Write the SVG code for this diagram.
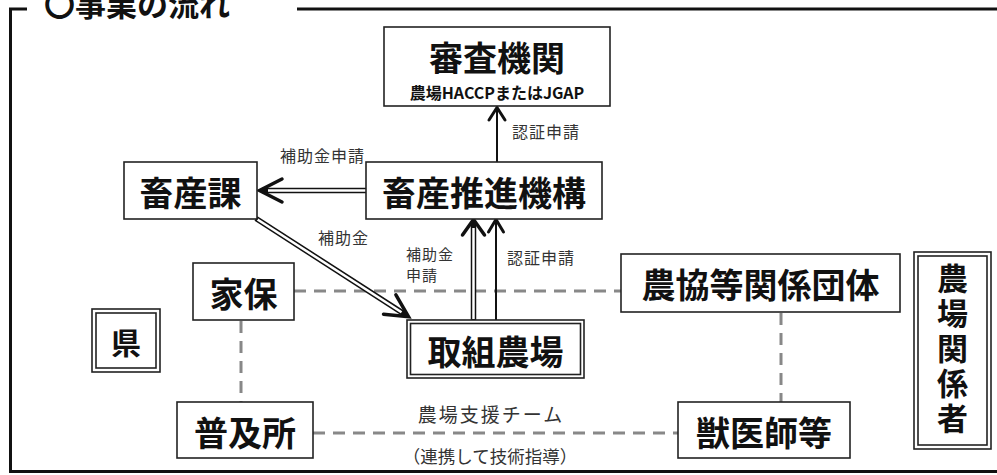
<svg xmlns="http://www.w3.org/2000/svg" width="997" height="475" viewBox="0 0 997 475">
<style>
.box{fill:#fff;stroke:#222;stroke-width:1.6}
.t{font-family:"Noto Sans CJK JP","Noto Sans CJK SC",sans-serif;font-weight:700;fill:#111;text-anchor:middle;dominant-baseline:central}
.lbl{font-family:"Noto Sans CJK JP","Noto Sans CJK SC",sans-serif;font-size:16px;letter-spacing:1px;fill:#333;dominant-baseline:central}
.dash{fill:none;stroke:#888;stroke-width:3;stroke-dasharray:12 8}
.frame{fill:none;stroke:#111;stroke-width:3}
.dblo{fill:none;stroke:#111;stroke-width:5.5}
.dbli{fill:none;stroke:#fff;stroke-width:2.5}
.single{fill:none;stroke:#111;stroke-width:2}
.head{fill:none;stroke:#111;stroke-width:3.5;stroke-linejoin:miter;stroke-linecap:round}
.heads{fill:none;stroke:#111;stroke-width:3;stroke-linejoin:miter;stroke-linecap:round}
</style>
<rect width="997" height="475" fill="#fff"/>
<g id="frame">
<path class="frame" d="M27 9 H10.5 V471.5 H997"/>
<path class="frame" d="M297 9 H997"/>
<text class="t" x="44" y="2" style="font-size:31px;text-anchor:start">〇事業の流れ</text>
</g>
<g id="connectors">
<line class="dash" x1="294" y1="291" x2="621" y2="291"/>
<line class="dash" x1="241" y1="321" x2="241" y2="402"/>
<line class="dash" x1="781" y1="313" x2="781" y2="402"/>
<line class="dash" x1="313" y1="433" x2="678" y2="433"/>
<line class="single" x1="497" y1="162" x2="497" y2="109"/>
<polyline class="heads" points="489,120 497,107.5 505,120"/>
<line class="dblo" x1="366" y1="190.5" x2="262" y2="190.5"/>
<line class="dbli" x1="367" y1="190.5" x2="268" y2="190.5"/>
<polyline class="head" points="282,179 259.5,190.5 282,202"/>
<line class="dblo" x1="256" y1="218.5" x2="406.5" y2="315.4"/>
<line class="dbli" x1="257.5" y1="219.5" x2="401.5" y2="312.2"/>
<polyline class="head" points="383.5,314.2 408.5,316.7 395.9,294.8"/>
<line class="dblo" x1="473.5" y1="320" x2="473.5" y2="222"/>
<line class="dbli" x1="473.5" y1="319" x2="473.5" y2="228"/>
<polyline class="head" points="462.5,235 473.5,219.5 484.5,235"/>
<line class="single" x1="496" y1="320" x2="496" y2="221"/>
<polyline class="heads" points="488.5,232 496,219.5 503.5,232"/>
<text class="lbl" x="512" y="131">認証申請</text>
<text class="lbl" x="280" y="155">補助金申請</text>
<text class="lbl" x="318" y="237">補助金</text>
<text class="lbl" x="406" y="253" style="font-size:15px">補助金</text>
<text class="lbl" x="406" y="274" style="font-size:15px">申請</text>
<text class="lbl" x="507" y="257">認証申請</text>
<text class="lbl" x="491" y="413" style="font-size:19px;letter-spacing:2px;text-anchor:middle">農場支援チーム</text>
<text class="lbl" x="490" y="455" style="font-size:17.5px;letter-spacing:0;text-anchor:middle">（連携して技術指導）</text>
</g>
<g id="shinsa">
<rect class="box" x="384" y="27" width="226" height="79"/>
<text class="t" x="497" y="56" style="font-size:34px">審査機関</text>
<text class="t" x="497" y="92" style="font-size:16px">農場HACCPまたはJGAP</text>
</g>
<g id="chikusanka">
<rect class="box" x="124" y="162" width="133" height="57"/>
<text class="t" x="190.5" y="191" style="font-size:34px">畜産課</text>
</g>
<g id="suishin">
<rect class="box" x="366" y="162" width="236" height="57"/>
<text class="t" x="484" y="191" style="font-size:34px">畜産推進機構</text>
</g>
<g id="kaho">
<rect class="box" x="193" y="263" width="101" height="57"/>
<text class="t" x="243.5" y="292" style="font-size:34px">家保</text>
</g>
<g id="torikumi">
<rect class="box" x="407" y="320" width="177" height="58"/>
<rect class="box" x="410.5" y="323.5" width="170" height="51"/>
<text class="t" x="495.5" y="350" style="font-size:34px">取組農場</text>
</g>
<g id="nokyo">
<rect class="box" x="621" y="254" width="279" height="58"/>
<text class="t" x="760.5" y="283" style="font-size:34px">農協等関係団体</text>
</g>
<g id="ken">
<rect class="box" x="92" y="309" width="68" height="63"/>
<rect class="box" x="96" y="313" width="60" height="55"/>
<text class="t" x="126" y="341" style="font-size:30px">県</text>
</g>
<g id="kankeisha">
<rect class="box" x="914" y="252" width="77" height="197"/>
<rect class="box" x="918" y="256" width="69" height="189"/>
<text x="952.5" y="263" style="font-family:'Noto Sans CJK JP','Noto Sans CJK SC',sans-serif;font-weight:700;font-size:31px;fill:#111;writing-mode:vertical-rl;text-orientation:upright;letter-spacing:4px">農場関係者</text>
</g>
<g id="fukyu">
<rect class="box" x="177" y="402" width="136" height="56"/>
<text class="t" x="245" y="431" style="font-size:34px">普及所</text>
</g>
<g id="juishi">
<rect class="box" x="678" y="402" width="172" height="56"/>
<text class="t" x="764" y="431" style="font-size:34px">獣医師等</text>
</g>
</svg>
